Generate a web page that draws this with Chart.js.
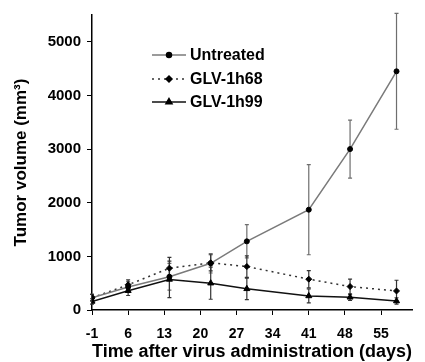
<!DOCTYPE html>
<html>
<head>
<meta charset="utf-8">
<script src="https://cdn.jsdelivr.net/npm/chart.js@4"></script>
<style>
html,body{margin:0;padding:0;background:#fff;}
#wrap{width:425px;height:362px;}
</style>
</head>
<body>
<div id="wrap"><canvas id="tumorChart" width="425" height="362"></canvas></div>
<script>
// days after virus administration
let days = [-1, 6, 14, 22, 29, 41, 49, 58];

let untreated = [230, 430, 620, 870, 1280, 1870, 3000, 4450];
let untreatedErr = [60, 100, 250, 180, 310, 840, 540, 1080];

let glv1h68 = [230, 470, 780, 880, 810, 575, 437, 355];
let glv1h68Err = [60, 90, 200, 150, 200, 160, 140, 200];

let glv1h99 = [160, 360, 570, 500, 395, 262, 237, 168];
let glv1h99Err = [50, 90, 340, 300, 200, 130, 60, 60];

let xTicks = [-1, 6, 13, 20, 27, 34, 41, 48, 55];
let yTicks = [0, 1000, 2000, 3000, 4000, 5000];

let labels = ["Untreated", "GLV-1h68", "GLV-1h99"];

const FONT = "'Liberation Sans', Arial, sans-serif";

function pts(vals){
  return days.map((d,i)=>({x:d, y:vals[i]}));
}

const errorBars = {
  id:"errorBars",
  beforeDatasetsDraw(chart){
    let ctx = chart.ctx;
    let xs = chart.scales.x, ys = chart.scales.y;
    chart.data.datasets.forEach(ds=>{
      ctx.save();
      ctx.strokeStyle = ds.errColor;
      ctx.lineWidth = 1.2;
      ds.data.forEach((p,i)=>{
        let e = ds.err[i];
        let px = xs.getPixelForValue(p.x);
        let top = ys.getPixelForValue(p.y + e);
        let bot = ys.getPixelForValue(Math.max(0, p.y - e));
        ctx.beginPath();
        ctx.moveTo(px, top); ctx.lineTo(px, bot);
        ctx.moveTo(px-2, top); ctx.lineTo(px+2, top);
        ctx.moveTo(px-2, bot); ctx.lineTo(px+2, bot);
        ctx.stroke();
      });
      ctx.restore();
    });
  }
};

const boxLegend = {
  id:"boxLegend",
  afterDraw(chart){
    let ctx = chart.ctx;
    let rows = [55, 79, 102];
    chart.data.datasets.forEach((ds,i)=>{
      let y = rows[i];
      ctx.save();
      ctx.strokeStyle = ds.borderColor;
      ctx.lineWidth = ds.borderWidth;
      ctx.setLineDash(ds.borderDash || []);
      ctx.beginPath();
      ctx.moveTo(152, y); ctx.lineTo(186, y);
      ctx.stroke();
      ctx.setLineDash([]);
      ctx.fillStyle = "#000";
      ctx.strokeStyle = "#000";
      Chart.helpers.drawPoint(ctx, {pointStyle: ds.pointStyle, radius: ds.pointRadius, rotation: 0, borderWidth: 1}, 169, y);
      ctx.font = "bold 16px " + FONT;
      ctx.textBaseline = "middle";
      ctx.fillText(ds.label, 190, y + 1);
      ctx.restore();
    });
  }
};

new Chart(document.getElementById("tumorChart"), {
  type:"line",
  data:{
    datasets:[
      {
        label:labels[0], data:pts(untreated), err:untreatedErr, errColor:"#6e6e6e",
        borderColor:"#7a7a7a", borderWidth:1.5, pointStyle:"circle", pointRadius:2.5,
        pointBorderWidth:1, pointBackgroundColor:"#000", pointBorderColor:"#000", tension:0
      },
      {
        label:labels[1], data:pts(glv1h68), err:glv1h68Err, errColor:"#333",
        borderColor:"#333", borderWidth:1.5, borderDash:[2,4], pointStyle:"rectRot", pointRadius:3,
        pointBorderWidth:1, pointBackgroundColor:"#000", pointBorderColor:"#000", tension:0
      },
      {
        label:labels[2], data:pts(glv1h99), err:glv1h99Err, errColor:"#333",
        borderColor:"#111", borderWidth:1.5, pointStyle:"triangle", pointRadius:3.5,
        pointBorderWidth:1, pointBackgroundColor:"#000", pointBorderColor:"#000", tension:0
      }
    ]
  },
  options:{
    responsive:false,
    animation:false,
    layout:{padding:{top:15, right:13, left:0, bottom:0}},
    plugins:{legend:{display:false}, tooltip:{enabled:false}},
    scales:{
      x:{
        type:"linear", min:-1, max:61,
        afterBuildTicks(s){ s.ticks = xTicks.map(v=>({value:v})); },
        afterFit(s){ s.height = 52; },
        grid:{drawOnChartArea:false, color:"#000", tickLength:5, tickWidth:1},
        border:{color:"#000", width:1.5},
        ticks:{color:"#000", font:{family:FONT, size:14, weight:"bold"}, padding:11, maxRotation:0,
          callback:v=>String(v)},
        title:{display:true, text:"Time after virus administration (days)", color:"#000",
          font:{family:FONT, size:18, weight:"bold", lineHeight:1.1}, padding:{top:0, bottom:0}}
      },
      y:{
        min:0, max:5500,
        afterBuildTicks(s){ s.ticks = yTicks.map(v=>({value:v})); },
        afterFit(s){ s.width = 92; },
        grid:{drawOnChartArea:false, color:"#000", tickLength:5, tickWidth:1},
        border:{color:"#000", width:1.5},
        ticks:{color:"#000", font:{family:FONT, size:15, weight:"bold"}, padding:6,
          callback:v=>String(v)},
        title:{display:true, text:"Tumor volume (mm³)", color:"#000",
          font:{family:FONT, size:17, weight:"bold"}, padding:{top:11, bottom:0}}
      }
    }
  },
  plugins:[errorBars, boxLegend]
});
</script>
</body>
</html>
